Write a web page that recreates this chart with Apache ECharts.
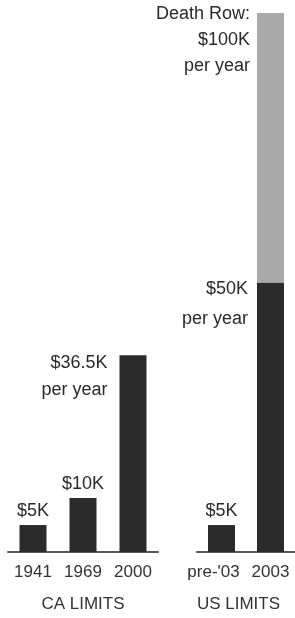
<!DOCTYPE html>
<html>
<head>
<meta charset="utf-8">
<script src="https://cdn.jsdelivr.net/npm/echarts@6/dist/echarts.min.js"></script>
<style>
  html, body { margin: 0; padding: 0; background: #fff; }
  #chart { width: 295px; height: 618px; }
</style>
</head>
<body>
<div id="chart"></div>
<script>
// limits, thousands of dollars
var caYears = ['1941', '1969', '2000'];
var caLimits = [5, 10, 36.5];
var caNotes = ['', '', 'per year'];

var usYears = ["pre-'03", '2003'];
var usLimits = [5, 50];
var usNotes = ['', 'per year'];
var usDeathRow = [null, 50];

var FONT = '"Liberation Sans", Arial, sans-serif';
var DARK = '#2b2b2b';
var GREY = '#a9a9a9';

var chart = echarts.init(document.getElementById('chart'));

function money(v) { return '$' + v + 'K'; }

// labels: plain ones on top, the annual ones hang left of the bar top
function barData(values, notes, offsetX, offsetY, lh) {
  return values.map(function (v, i) {
    if (!notes[i]) {
      return { value: v, label: { show: true, position: 'top', distance: 5, formatter: money(v) } };
    }
    return {
      value: v,
      label: {
        show: true, position: [offsetX, offsetY], align: 'right', verticalAlign: 'top',
        lineHeight: lh, formatter: money(v) + '\n' + notes[i]
      }
    };
  });
}

var labelStyle = { fontFamily: FONT, fontSize: 18, color: '#2a2a2a' };

function xAxis(idx, cats, name, namePad) {
  return {
    type: 'category', gridIndex: idx, data: cats,
    axisLine: { lineStyle: { color: '#555', width: 2 } },
    axisTick: { show: false },
    axisLabel: {
      fontFamily: FONT, fontSize: 17, color: '#333', margin: 12, interval: 0,
      formatter: function (v) { return v.indexOf('pre') === 0 ? '{s|' + v + '}' : v; },
      rich: { s: { fontFamily: FONT, fontSize: 17, color: '#333', padding: [0, 16, 0, 0] } }
    },
    name: name, nameLocation: 'middle', nameGap: 44,
    nameTextStyle: { fontFamily: FONT, fontSize: 17, color: '#333', padding: namePad }
  };
}

function yAxis(idx) {
  return { type: 'value', gridIndex: idx, min: 0, max: 100, show: false, splitLine: { show: false } };
}

var deathRowData = usDeathRow.map(function (v, i) {
  if (v == null) return '-';
  var total = usLimits[i] + v;
  return {
    value: v,
    label: {
      show: true, position: [-7, -12], align: 'right', verticalAlign: 'top', lineHeight: 26,
      formatter: 'Death Row:\n' + money(total) + '\n' + usNotes[i]
    }
  };
});

chart.setOption({
  backgroundColor: '#fff',
  animation: false,
  grid: [
    { left: 8, top: 13, width: 150, height: 544 },
    { left: 197, top: 13, width: 101, height: 544 }
  ],
  xAxis: [
    xAxis(0, caYears, 'CA LIMITS', [0, 0, 0, 0]),
    xAxis(1, usYears, 'US LIMITS', [0, 15, 0, 0])
  ],
  yAxis: [yAxis(0), yAxis(1)],
  series: [
    {
      type: 'bar', xAxisIndex: 0, yAxisIndex: 0, barWidth: 27,
      itemStyle: { color: DARK },
      label: labelStyle,
      data: barData(caLimits, caNotes, -12, -6, 27)
    },
    {
      type: 'bar', xAxisIndex: 1, yAxisIndex: 1, barWidth: 27, stack: 'us',
      itemStyle: { color: DARK },
      label: labelStyle,
      data: barData(usLimits, usNotes, -9, -8, 30)
    },
    {
      type: 'bar', xAxisIndex: 1, yAxisIndex: 1, barWidth: 27, stack: 'us',
      itemStyle: { color: GREY },
      label: labelStyle,
      data: deathRowData
    }
  ]
});
</script>
</body>
</html>
